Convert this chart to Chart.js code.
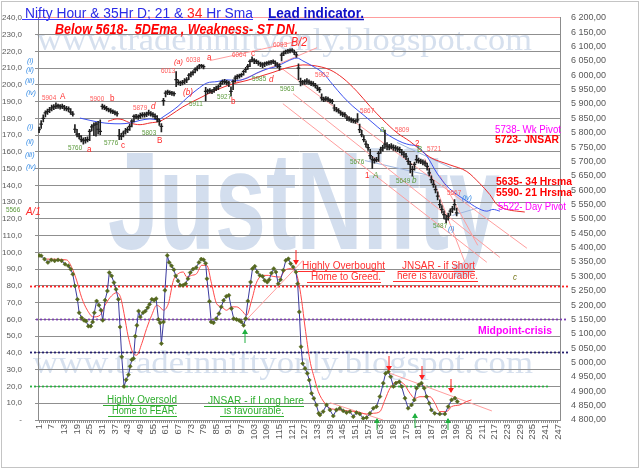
<!DOCTYPE html>
<html>
<head>
<meta charset="utf-8">
<script src="https://cdn.jsdelivr.net/npm/chart.js@4.4.1/dist/chart.umd.min.js"></script>
<style>
  html, body { margin: 0; padding: 0; background: #fff; }
</style>
</head>
<body>
<canvas id="myChart" width="640" height="469"></canvas>
<script>
// hourly bars, hour 1..199
const priceClose = [
  5811,5830,5850,5869,5874,5880,5886,5890,5892,5894,
  5890,5892,5886,5884,5883,5872,5865,5812,5795,5788,
  5776,5772,5774,5776,5805,5820,5826,5830,5812,5805,
  5892,5888,5884,5880,5876,5874,5870,5866,5790,5788,
  5799,5806,5811,5822,5840,5857,5855,5856,5860,5863,
  5862,5865,5869,5866,5863,5857,5848,5840,5822,5912,
  5938,5942,5940,5938,5936,5985,5975,5973,5975,5980,
  5984,6000,6004,6010,6020,6025,6033,6034,6030,5944,
  5945,5947,5944,5950,5955,5960,5970,5978,5978,5975,
  5973,5944,5978,5990,5996,5998,6002,6013,6020,6031,
  6048,6054,6050,6048,6042,6040,6036,6040,6042,6044,
  6046,6048,6042,6036,6030,6070,6077,6083,6084,6086,
  6088,6080,6071,6025,5978,5973,5978,5980,5976,5972,
  5970,5964,5955,5950,5921,5915,5918,5917,5912,5909,
  5886,5880,5876,5869,5865,5863,5851,5848,5845,5842,
  5840,5845,5811,5793,5776,5760,5748,5720,5706,5704,
  5706,5728,5740,5747,5760,5753,5750,5753,5748,5747,
  5744,5741,5732,5725,5718,5700,5690,5672,5690,5706,
  5703,5701,5698,5694,5683,5660,5637,5620,5602,5579,
  5550,5533,5515,5500,5510,5527,5535,5550,5521
];
const priceHigh = [
  5820,5842,5862,5876,5882,5888,5896,5898,5904,5900,
  5898,5900,5895,5892,5890,5884,5874,5828,5812,5798,
  5790,5782,5784,5786,5812,5828,5834,5836,5840,5845,
  5900,5896,5892,5886,5884,5880,5876,5874,5812,5798,
  5806,5815,5820,5830,5846,5862,5864,5862,5868,5870,
  5870,5872,5879,5874,5870,5866,5860,5848,5832,5920,
  5946,5948,5946,5944,5942,6013,5984,5980,5982,5988,
  5992,6006,6012,6016,6026,6032,6038,6038,6036,5958,
  5952,5954,5950,5958,5962,5966,5978,5984,5986,5982,
  5980,5960,5984,5998,6002,6004,6008,6018,6028,6038,
  6054,6064,6058,6055,6050,6046,6044,6046,6048,6050,
  6052,6054,6050,6044,6040,6078,6084,6088,6090,6092,
  6093,6088,6080,6040,5990,5982,5985,5988,5984,5980,
  5978,5972,5964,5958,5935,5924,5926,5924,5918,5916,
  5898,5888,5884,5876,5872,5870,5860,5856,5852,5848,
  5846,5867,5830,5808,5790,5772,5760,5742,5718,5712,
  5714,5735,5750,5756,5809,5766,5760,5762,5758,5755,
  5752,5750,5742,5734,5728,5712,5700,5684,5698,5721,
  5712,5708,5706,5702,5694,5676,5650,5634,5616,5594,
  5566,5546,5528,5512,5520,5535,5544,5567,5538
];
const priceLow = [
  5800,5815,5838,5855,5864,5870,5876,5880,5884,5885,
  5882,5884,5878,5876,5872,5864,5858,5800,5785,5778,
  5768,5760,5764,5768,5772,5806,5790,5788,5795,5793,
  5882,5880,5876,5872,5868,5866,5862,5858,5776,5776,
  5785,5795,5800,5808,5820,5838,5848,5846,5850,5854,
  5854,5856,5860,5858,5854,5848,5838,5825,5803,5895,
  5925,5932,5932,5930,5928,5960,5966,5964,5966,5970,
  5974,5985,5994,6000,6008,6015,6022,6026,6022,5911,
  5936,5938,5936,5940,5946,5950,5960,5968,5970,5966,
  5960,5927,5950,5976,5986,5990,5994,6000,6010,6020,
  6030,6046,6040,6040,6034,6030,6026,6030,6034,6036,
  6038,6040,6032,6026,6018,6050,6068,6074,6076,6078,
  6080,6072,6062,5985,5963,5966,5968,5970,5968,5964,
  5962,5956,5946,5940,5912,5908,5910,5908,5904,5900,
  5876,5872,5868,5860,5856,5854,5842,5840,5836,5834,
  5832,5836,5800,5785,5768,5750,5738,5710,5676,5694,
  5698,5700,5728,5736,5745,5740,5740,5744,5738,5736,
  5734,5730,5722,5714,5706,5690,5660,5649,5670,5695,
  5694,5692,5688,5684,5670,5650,5625,5610,5590,5566,
  5538,5520,5500,5487,5496,5512,5522,5530,5510
];

// 21 and 34 hour moving averages
const sma21Hour = [20.4,25.2,29.9,34.6,39.4,44.1,48.9,53.6,57.4,59.8,63.1,66.9,71.1,75.9,80.6,85.4,90.1,94.8,99.6,104.3,109.1,113.8,118.5,123.3,126.1,130.9,135.6,140.3,145.1,149.8,154.6,159.3,164,168.8,173.5,176.8,180.1,184.9,189.6,194.4,199.1,203.8,208.6,213.3,216.2,219.5];
const sma21Value = [5851,5843,5836,5832,5831,5834,5843,5848,5845,5855,5871,5892,5921,5950,5973,5978,5984,5982,5990,6008,6022,6031,6048,6060,6050,6031,6008,5967,5926,5892,5863,5834,5805,5782,5765,5758,5753,5718,5660,5614,5585,5562,5539,5527,5533,5527];
const sma34Hour = [33.7,38,40.8,44.1,48.9,53.6,58.3,63.1,69.2,77.3,85.4,92.9,99.6,105.7,111.9,116.6,121.4,126.1,130.9,138.9,145.1,151.7,157.9,164,170.7,176.8,186.3,195.8,203.8,210,214.7,218.1,222.8,227.5,231.3];
const sma34Value = [5840,5848,5845,5834,5828,5834,5840,5860,5890,5921,5950,5970,5982,5996,6010,6022,6031,6036,6034,6019,5990,5944,5892,5845,5800,5770,5715,5688,5665,5623,5585,5550,5533,5527,5524];

// lead indicator (0-100 on the left axis) and its smoothed line
const oscHour = [1,2,3.6,5.2,6.8,8.4,10,11.7,13.3,14.9,16,17,18,19.2,20,21.2,22.3,23.3,24.4,25.5,26.4,27.2,28.3,29.4,30.4,31.2,32.3,33.4,34.3,35.4,36.5,37.5,38.6,39.4,40.2,41.3,42.3,43.4,44.2,45,45.8,46.6,47.4,48.2,49,50.3,51.4,52.5,53.4,54.5,55.6,56.5,57.6,58.4,59,60,60.7,61.8,62.7,63.8,64.9,65.8,66.9,68,69.3,70.5,71.6,72.7,74,75.5,76.8,77.9,79,80,80.6,81.8,82.6,83.7,85,86.3,87.4,88.5,89.8,91,92.2,93.3,94.6,95.8,96.9,98,99,100,101.3,102.2,103.3,104.4,105.7,107,108,109.2,110.1,111.2,112.3,113.3,114.4,115.5,116.8,118,119.2,120.3,121.5,122.8,123.6,124.4,125.2,126,127.1,128.2,129.1,130.2,131.3,132.5,133.6,134.2,135.7,137.3,138.9,140.5,142,143.6,145.2,146.8,148.4,150,151.5,153.1,154.7,156.3,157.9,159.5,161,162.6,164.2,165.3,166.6,167.7,169,170.2,171.8,172.9,174.5,176,177.6,178.9,180,181.1,182.3,183.6,184.7,186,187,188.6,191,193.4,195,196.6,198.2,199.3];
const oscValue = [98.2,98,96,94,95.5,95,95.5,95,93,92,90,87,80,72,64,61,59.5,59,56,56,58.5,64,71,68.5,65.5,59.5,71.5,77,88,86,82,78,72,55.5,37.7,20,24,27,32,36,36.7,50,56.5,65,61.5,64,65,67,69,72,71.5,72.4,60,58,45.6,58.5,77.4,98.2,94,92,89.7,86,83,80.4,80.4,81.3,84.3,88,90,91,94,96,95.6,93.5,84.3,70.8,58.5,58,60.5,63.5,67.5,71.4,73.8,74.4,66.5,60.5,60,59.5,58.5,56.5,60.5,71,82.3,90.3,91.7,88.3,86.3,85.7,83.3,82.3,83.7,87.7,90.3,88.3,81.3,83.7,89.3,95.2,96.2,93.3,91.3,88.3,81.3,64.5,43.7,33.7,30.8,27.8,23.8,15.9,12.9,8.9,4,3,5,9,6,2.4,6,7,5.5,4.4,5,2,4.4,3.6,1,1.4,4,7,8,14,22,27.8,28.8,25.8,20,22,22.8,20,13,7,9,12,19,21,22,19,14,10,6,4,3.6,3.6,8,12,13,11];
const sigHour = [4.6,14.1,16.5,18.9,21.2,23.9,26.7,29.9,32.3,34.6,37.8,39.7,41.3,43.3,45.7,47.3,49.7,52,54.4,56.8,58.3,59.9,62.3,64.7,67,69.4,71,73.3,75.7,78.1,80.5,82.8,85.2,87.6,89.9,92.3,94.7,97,99.4,101.8,104.2,107.3,109.7,112,115.2,117.6,120,122.3,123.9,125.5,127.1,129.4,131.8,133.4,136.5,138.9,142,146.8,151.5,156.3,159.5,162.6,165,167.4,170.5,173.7,176.9,179.2,181.6,186.3,188.7,191,194.2,196.6,200.5,203.7,206];
const sigValue = [96,95.5,91,83,73,65.5,61.5,62.5,68.5,73,76,73,63.5,49.6,39.7,38.7,45.6,54.6,62.5,68.5,67.5,65.5,69.4,83.3,87.3,88.3,85.3,86.3,87.3,92.3,92.3,81.3,69.4,67.5,65.5,67.5,67.5,65.5,62.5,71.4,82.3,86.3,86.3,85.7,85.3,89.3,90.3,89.3,83.3,71.4,55.5,35.7,23.8,16.9,10,7,6.3,5.5,5,3.6,4,5,12,19,22.8,21.8,15.9,12.9,13.9,13.9,10,5,5,8,9,11,12];

// hand drawn trend lines: [hour1, value1, hour2, value2]
const priceTrends = [[116.2,6023,232.3,5398],[121.4,5936,219.5,5366],[116.6,5901,213.3,5349],[183.9,5710,202.9,5349],[191,5651,209,5408],[82,6051,124.7,6120],[92.9,5971,132.8,6096]];
const priceTrendsBlue = [[155.5,5703,186.3,5651],[170.7,5766,197.2,5675],[197,5512,208.6,5537]];
const oscTrends = [[99.1,59.5,126.1,95.2],[138.9,10.3,164.1,0],[165.9,28.6,215.7,5.4]];
const zoneLevels = [80, 60, 40.5, 20.5];
const xTickLabels = [1,7,13,19,25,31,37,43,49,55,61,67,73,79,85,91,97,103,109,115,121,127,133,139,145,151,157,163,169,175,181,187,193,199,205,211,217,223,229,235,241,247];

const FONT = '"Liberation Sans", Arial, sans-serif';
const pts = (xs, ys) => xs.map((x, i) => ({ x: x, y: ys[i] }));
const bars = priceClose.map((c, i) => ({ x: i + 1, y: [priceLow[i], priceHigh[i]] }));
const closes = priceClose.map((c, i) => ({ x: i + 1, y: c }));

function put(c, t, x, y, font, color, sx, under) {
  c.save();
  c.font = font;
  c.fillStyle = color;
  const w = c.measureText(t).width * (sx || 1);
  c.translate(x, y);
  c.scale(sx || 1, 1);
  c.fillText(t, 0, 0);
  c.restore();
  if (under) {
    c.save();
    c.strokeStyle = color;
    c.lineWidth = 1;
    c.beginPath();
    c.moveTo(x - 4, y + 2.5);
    c.lineTo(x + w, y + 2.5);
    c.stroke();
    c.restore();
  }
  return x + w;
}
function fit(c, t, font, width) {
  c.save();
  c.font = font;
  const s = width / c.measureText(t).width;
  c.restore();
  return s;
}
function arrow(c, x, y0, y1, color) {
  c.save();
  c.strokeStyle = color;
  c.fillStyle = color;
  c.lineWidth = 1;
  c.beginPath();
  c.moveTo(x, y0);
  c.lineTo(x, y1);
  c.stroke();
  const d = y1 > y0 ? 1 : -1;
  c.beginPath();
  c.moveTo(x, y1 + d);
  c.lineTo(x - 3, y1 - 4 * d);
  c.lineTo(x + 3, y1 - 4 * d);
  c.closePath();
  c.fill();
  c.restore();
}

const backdrop = {
  id: 'backdrop',
  beforeDraw(chart) {
    const c = chart.ctx;
    c.save();
    c.fillStyle = '#fff';
    c.fillRect(0, 0, chart.width, chart.height);
    c.strokeStyle = '#c4c4c4';
    c.lineWidth = 1;
    c.strokeRect(1.5, 1.5, chart.width - 3, chart.height - 3);
    const url = 'www.tradeinniftyonly.blogspot.com';
    const uf = '32px "Liberation Serif", serif';
    put(c, url, 37, 50, uf, '#d6e0ee', fit(c, url, uf, 495));
    put(c, url, 33, 373, uf, '#d6e0ee', fit(c, url, uf, 500));
    const jf = 'bold 140px ' + FONT;
    put(c, 'JustNifty', 108, 249, jf, '#d3deee', fit(c, 'JustNifty', jf, 392));
    c.restore();
  }
};

const zones = {
  id: 'zones',
  beforeDatasetsDraw(chart) {
    const c = chart.ctx, y = chart.scales.yOsc;
    const look = [['#ff2020', 30, 568], ['#7a3fb0', 36, 568], ['#25206e', 30, 570], ['#28b040', 30, 550]];
    c.save();
    c.setLineDash([2, 2]);
    c.lineWidth = 1.8;
    zoneLevels.forEach((v, i) => {
      const py = Math.round(y.getPixelForValue(v)) + 0.5;
      c.strokeStyle = look[i][0];
      c.beginPath();
      c.moveTo(look[i][1], py);
      c.lineTo(look[i][2], py);
      c.stroke();
    });
    c.restore();
  }
};

const HI = '#ff5a5a', LO = '#5c9a3c', RD = '#ff2a2a', BL = '#3a8ee6';
const SMALL = '7.5px ' + FONT, LET = '9px ' + FONT, LETI = 'italic 9px ' + FONT, ROM = 'italic 8px ' + FONT;
const marks = [
  ['5904',42,100,SMALL,HI],['5900',90,101,SMALL,HI],['5879',133,110,SMALL,HI],['5760',68,150,SMALL,LO],
  ['5776',104,145,SMALL,LO],['5803',142,135,SMALL,LO],['6013',161,73,SMALL,HI],['6038',186,62,SMALL,HI],
  ['5911',189,106,SMALL,LO],['5927',217,99,SMALL,LO],['6064',232,57,SMALL,HI],['5985',252,81,SMALL,LO],
  ['6093',273,47,SMALL,HI],['5963',280,91,SMALL,LO],['5962',315,77,SMALL,HI],['5867',360,113,SMALL,HI],
  ['5809',395,132,SMALL,HI],['5721',427,151,SMALL,HI],['5676',350,164,SMALL,LO],['5649',396,183,SMALL,LO],
  ['5567',447,195,SMALL,HI],['5487',433,228,SMALL,LO],['5566',6,212,SMALL,LO],
  ['A',60,99,LET,RD],['b',110,101,LET,RD],['d',151,109,LETI,RD],['a',87,152,LET,RD],['c',121,148,LET,RD],
  ['B',157,143,LET,RD],['(a)',174,64,ROM,RD],['a',207,60,LET,RD],['(b)',183,95,LETI,RD],['b',231,104,LET,RD],
  ['c',251,56,LET,RD],['d',269,82,LETI,RD],['B/2',291,46,'italic 12px ' + FONT,RD],['a',380,132,LETI,LO],
  ['2',415,146,LET,RD],['B',417,152,LET,LO],['1',365,178,LET,RD],['A',373,178,LETI,LO],['b',412,183,LETI,LO],
  ['(iv)',462,200,ROM,BL],['(i)',448,231,ROM,BL],['A/1',26,215,'italic 11px ' + FONT,RD],['c',513,280,LETI,'#7a7a20'],
  ['(i)',27,63,ROM,BL],['(ii)',26,72,ROM,BL],['(iii)',25,83,ROM,BL],['(iv)',26,95,ROM,BL],
  ['(i)',27,129,ROM,BL],['(ii)',26,144,ROM,BL],['(iii)',25,157,ROM,BL],['(iv)',26,169,ROM,BL]
];

const notes = {
  id: 'notes',
  afterDraw(chart) {
    const c = chart.ctx;
    // titles
    const tf = '14px ' + FONT;
    const s = fit(c, 'Nifty Hour & 35Hr D; 21 & 34 Hr Sma', tf, 228);
    let x = put(c, 'Nifty Hour & 35Hr D; 21 & ', 25, 18, tf, '#2a2ae6', s);
    x = put(c, '34', x, 18, tf, '#ff2020', s);
    put(c, ' Hr Sma', x, 18, tf, '#2a2ae6', s);
    c.save();
    c.strokeStyle = '#3b3bff';
    c.lineWidth = 1;
    c.beginPath(); c.moveTo(22, 19.5); c.lineTo(253, 19.5); c.stroke();
    c.strokeStyle = '#1010c0';
    c.lineWidth = 1.6;
    c.beginPath(); c.moveTo(268, 19.5); c.lineTo(364, 19.5); c.stroke();
    c.restore();
    const lf = 'bold 14px ' + FONT;
    put(c, 'Lead indicator.', 268, 18, lf, '#1010c8', fit(c, 'Lead indicator.', lf, 96));
    const bf = 'italic bold 14px ' + FONT;
    const below = 'Below 5618-  5DEma , Weakness- ST DN.';
    put(c, below, 55, 33.5, bf, '#ff0000', fit(c, below, bf, 243));

    marks.forEach(m => put(c, m[0], m[1], m[2], m[3], m[4], m[3] === SMALL ? 0.85 : 0.9));

    // right side notes
    const mf = '10px ' + FONT, rb = 'bold 10.5px ' + FONT;
    put(c, '5738- Wk Pivot', 495, 133, mf, '#ff00ff', fit(c, '5738- Wk Pivot', mf, 66));
    put(c, '5723- JNSAR', 495, 143, 'bold 11px ' + FONT, '#ff0000', fit(c, '5723- JNSAR', 'bold 11px ' + FONT, 64));
    put(c, '5635- 34 Hrsma', 496, 185, rb, '#ff0000', fit(c, '5635- 34 Hrsma', rb, 76));
    put(c, '5590- 21 Hrsma', 496, 196, rb, '#ff0000', fit(c, '5590- 21 Hrsma', rb, 76));
    put(c, '5522- Day Pivot', 498, 210, mf, '#ff00ff', fit(c, '5522- Day Pivot', mf, 68));
    put(c, 'Midpoint-crisis', 478, 334, 'bold 10px ' + FONT, '#ff00ff', fit(c, 'Midpoint-crisis', 'bold 10px ' + FONT, 74));

    // oscillator notes
    const of = '10px ' + FONT, G = '#2eae2e', R = '#ff3030';
    put(c, 'Highly Oversold', 107, 403, of, G, fit(c, 'Highly Oversold', of, 70), true);
    put(c, 'Home to FEAR.', 112, 414, of, G, fit(c, 'Home to FEAR.', of, 65), true);
    put(c, 'JNSAR - if Long here', 208, 404, of, G, fit(c, 'JNSAR - if Long here', of, 96), true);
    put(c, 'is favourable.', 224, 414, of, G, fit(c, 'is favourable.', of, 60), true);
    put(c, 'Highly Overbought', 302, 269, of, R, fit(c, 'Highly Overbought', of, 83), true);
    put(c, 'Home to Greed.', 311, 280, of, R, fit(c, 'Home to Greed.', of, 70), true);
    put(c, 'JNSAR - if Short', 402, 269, of, R, fit(c, 'JNSAR - if Short', of, 73), true);
    put(c, 'here is favourable.', 397, 279, of, R, fit(c, 'here is favourable.', of, 81), true);

    arrow(c, 296, 250, 264, '#ff2020');
    arrow(c, 389, 356, 370, '#ff2020');
    arrow(c, 422, 366, 379, '#ff2020');
    arrow(c, 451, 379, 392, '#ff2020');
    arrow(c, 245, 343, 330, '#20b040');
    arrow(c, 377, 430, 419, '#20b040');
    arrow(c, 415, 428, 414, '#20b040');
    arrow(c, 448, 430, 419, '#20b040');
  }
};

const trendSet = (t, axis, color) => ({
  type: 'line',
  data: [{ x: t[0], y: t[1] }, { x: t[2], y: t[3] }],
  yAxisID: axis,
  borderColor: color,
  borderWidth: 1,
  pointRadius: 0
});

const ctx = document.getElementById('myChart');
new Chart(ctx, {
  type: 'line',
  data: {
    datasets: [
      {
        type: 'bar',
        data: bars,
        yAxisID: 'yPrice',
        backgroundColor: '#1f1f1f',
        barThickness: 1,
        borderWidth: 0
      },
      {
        data: closes,
        yAxisID: 'yPrice',
        showLine: false,
        pointStyle: 'line',
        pointRadius: 1.8,
        pointBorderColor: '#1f1f1f',
        pointBorderWidth: 1.2
      },
      {
        data: pts(oscHour, oscValue),
        yAxisID: 'yOsc',
        borderColor: '#3a3a9e',
        borderWidth: 1,
        pointStyle: 'rectRot',
        pointRadius: 2.1,
        pointBackgroundColor: '#55681e',
        pointBorderColor: '#55681e',
        pointBorderWidth: 0.5
      },
      {
        data: pts(sigHour, sigValue),
        yAxisID: 'yOsc',
        borderColor: '#ff4a4a',
        borderWidth: 1,
        pointRadius: 0,
        cubicInterpolationMode: 'monotone'
      },
      {
        data: pts(sma21Hour, sma21Value),
        yAxisID: 'yPrice',
        borderColor: '#3d52f0',
        borderWidth: 1,
        pointRadius: 0,
        cubicInterpolationMode: 'monotone'
      },
      {
        data: pts(sma34Hour, sma34Value),
        yAxisID: 'yPrice',
        borderColor: '#ee2b2b',
        borderWidth: 1,
        pointRadius: 0,
        cubicInterpolationMode: 'monotone'
      },
      ...priceTrends.map(t => trendSet(t, 'yPrice', '#ff9e9e')),
      ...priceTrendsBlue.map(t => trendSet(t, 'yPrice', '#9fb6df')),
      ...oscTrends.map(t => trendSet(t, 'yOsc', '#ff9e9e'))
    ]
  },
  options: {
    responsive: false,
    animation: false,
    events: [],
    layout: { padding: { top: 17, left: 0, right: 0, bottom: 0 } },
    plugins: { legend: { display: false }, tooltip: { enabled: false } },
    scales: {
      x: {
        type: 'linear',
        min: 0.5,
        max: 248,
        offset: false,
        afterBuildTicks: (s) => {
          const t = [];
          for (let h = 1; h <= 247; h++) t.push({ value: h });
          s.ticks = t;
        },
        afterFit: (s) => { s.height = 49; },
        ticks: {
          autoSkip: false,
          minRotation: 90,
          maxRotation: 90,
          padding: 1,
          color: '#595959',
          font: { family: FONT, size: 9.5 },
          callback: (v) => (xTickLabels.includes(v) ? String(v) : '')
        },
        grid: { drawOnChartArea: false, drawTicks: true, tickLength: 3, color: '#8c8c8c', offset: false },
        border: { display: true, color: '#8c8c8c' }
      },
      yOsc: {
        position: 'left',
        min: 0,
        max: 240,
        afterFit: (s) => { s.width = 38; },
        ticks: {
          stepSize: 10,
          autoSkip: false,
          padding: 13,
          color: '#595959',
          font: { family: FONT, size: 8 },
          callback: (v) => (v === 0 ? '-' : v.toFixed(1).replace('.', ','))
        },
        grid: {
          color: (c) => (c.tick && c.tick.value === 240 ? '#ff9d9d' : '#8f8f8f'),
          tickLength: 3
        },
        border: { display: true, color: '#8c8c8c' }
      },
      yPrice: {
        position: 'right',
        min: 4800,
        max: 6200,
        afterFit: (s) => { s.width = 80; },
        ticks: {
          stepSize: 50,
          autoSkip: false,
          padding: 11,
          color: '#595959',
          font: { family: FONT, size: 9 },
          callback: (v) => Math.floor(v / 1000) + ' ' + String(v % 1000).padStart(3, '0') + ',00'
        },
        grid: { drawOnChartArea: false, drawTicks: false },
        border: { display: true, color: '#8c8c8c' }
      }
    }
  },
  plugins: [backdrop, zones, notes]
});
</script>
</body>
</html>
